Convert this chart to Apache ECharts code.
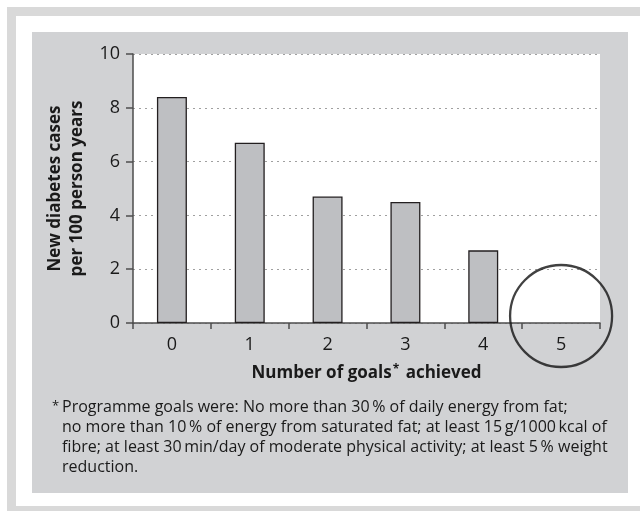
<!DOCTYPE html>
<html>
<head>
<meta charset="utf-8">
<script src="https://cdn.jsdelivr.net/npm/echarts@6/dist/echarts.min.js"></script>
<style>html,body{margin:0;padding:0;background:#fff;}#c{width:640px;height:511px;}</style>
</head>
<body>
<div id="c"></div>
<script>
var categories = ['0', '1', '2', '3', '4', '5'];
var cases = [8.4, 6.7, 4.7, 4.5, 2.7, 0];
var yTicks = [0, 2, 4, 6, 8, 10];
var highlight = [[5, 0.26]];
var yTitle = 'New diabetes cases\nper 100 person years';
var xTitle = 'Number of goals{s|*} achieved';
var footnote = [
  'Programme goals were: No more than 30\u2009% of daily energy from fat;',
  'no more than 10\u2009% of energy from saturated fat; at least 15\u2009g/1000\u2009kcal of',
  'fibre; at least 30\u2009min/day of moderate physical activity; at least 5\u2009% weight',
  'reduction.'
];

var FONT = '"Open Sans", sans-serif';
var chart = echarts.init(document.getElementById('c'), null, {renderer: 'canvas'});

var graphics = [
  {type: 'rect', z: -10, shape: {x: 11.5, y: 11.5, width: 700, height: 499}, style: {fill: '#ffffff', stroke: '#d9d9d9', lineWidth: 9}},
  {type: 'rect', z: -9, shape: {x: 32, y: 32, width: 596, height: 461}, style: {fill: '#d1d2d4'}},
  {type: 'text', x: 52, y: 400, style: {text: '*', font: '13px ' + FONT, fill: '#1a1a1a'}}
];
footnote.forEach(function (line, i) {
  graphics.push({type: 'text', x: 62, y: 399 + i * 20.3, style: {text: line, font: '16px ' + FONT, fill: '#1a1a1a'}});
});

chart.setOption({
  animation: false,
  backgroundColor: '#ffffff',
  graphic: graphics,
  grid: {left: 133, right: 40, top: 54, bottom: 188, show: true, backgroundColor: '#ffffff', borderWidth: 0},
  xAxis: {
    type: 'category',
    data: categories,
    boundaryGap: true,
    axisLine: {lineStyle: {color: '#4d4d4d', width: 1.5}},
    axisTick: {show: true, alignWithLabel: false, length: 6, lineStyle: {color: '#4d4d4d', width: 1.5}},
    axisLabel: {fontFamily: FONT, fontSize: 18, color: '#1a1a1a', margin: 13},
    name: xTitle,
    nameLocation: 'middle',
    nameGap: 41,
    nameTextStyle: {fontFamily: FONT, fontSize: 17, fontWeight: 'bold', color: '#1a1a1a',
      rich: {s: {fontFamily: FONT, fontSize: 12, fontWeight: 'bold', color: '#1a1a1a', verticalAlign: 'top', padding: [0, 2, 6, 1]}}}
  },
  yAxis: {
    type: 'value',
    min: 0,
    max: 10,
    interval: 2,
    axisLine: {show: true, lineStyle: {color: '#4d4d4d', width: 1.5}},
    axisTick: {show: true, length: 7, lineStyle: {color: '#4d4d4d', width: 1.5}},
    axisLabel: {fontFamily: FONT, fontSize: 18, color: '#1a1a1a', margin: 13,
      formatter: function (v) { return yTicks.indexOf(v) >= 0 ? String(v) : ''; }},
    splitLine: {show: true, lineStyle: {color: '#a0a0a0', type: [2, 4], width: 1.2}},
    name: yTitle,
    nameLocation: 'middle',
    nameGap: 39,
    nameTextStyle: {fontFamily: FONT, fontSize: 17, fontWeight: 'bold', color: '#1a1a1a', lineHeight: 22, align: 'center'}
  },
  series: [
    {
      type: 'bar',
      data: cases.map(function (v) { return v === 0 ? {value: v, itemStyle: {borderWidth: 0}} : v; }),
      barWidth: '38.5%',
      itemStyle: {color: '#bebfc2', borderColor: '#231f20', borderWidth: 1.3},
      z: 2
    },
    {
      type: 'scatter',
      data: highlight,
      symbol: 'circle',
      symbolSize: 102,
      clip: false,
      silent: true,
      itemStyle: {color: 'rgba(0,0,0,0)', borderColor: '#111111', borderWidth: 2.3},
      z: 5
    }
  ]
});
</script>
</body>
</html>
